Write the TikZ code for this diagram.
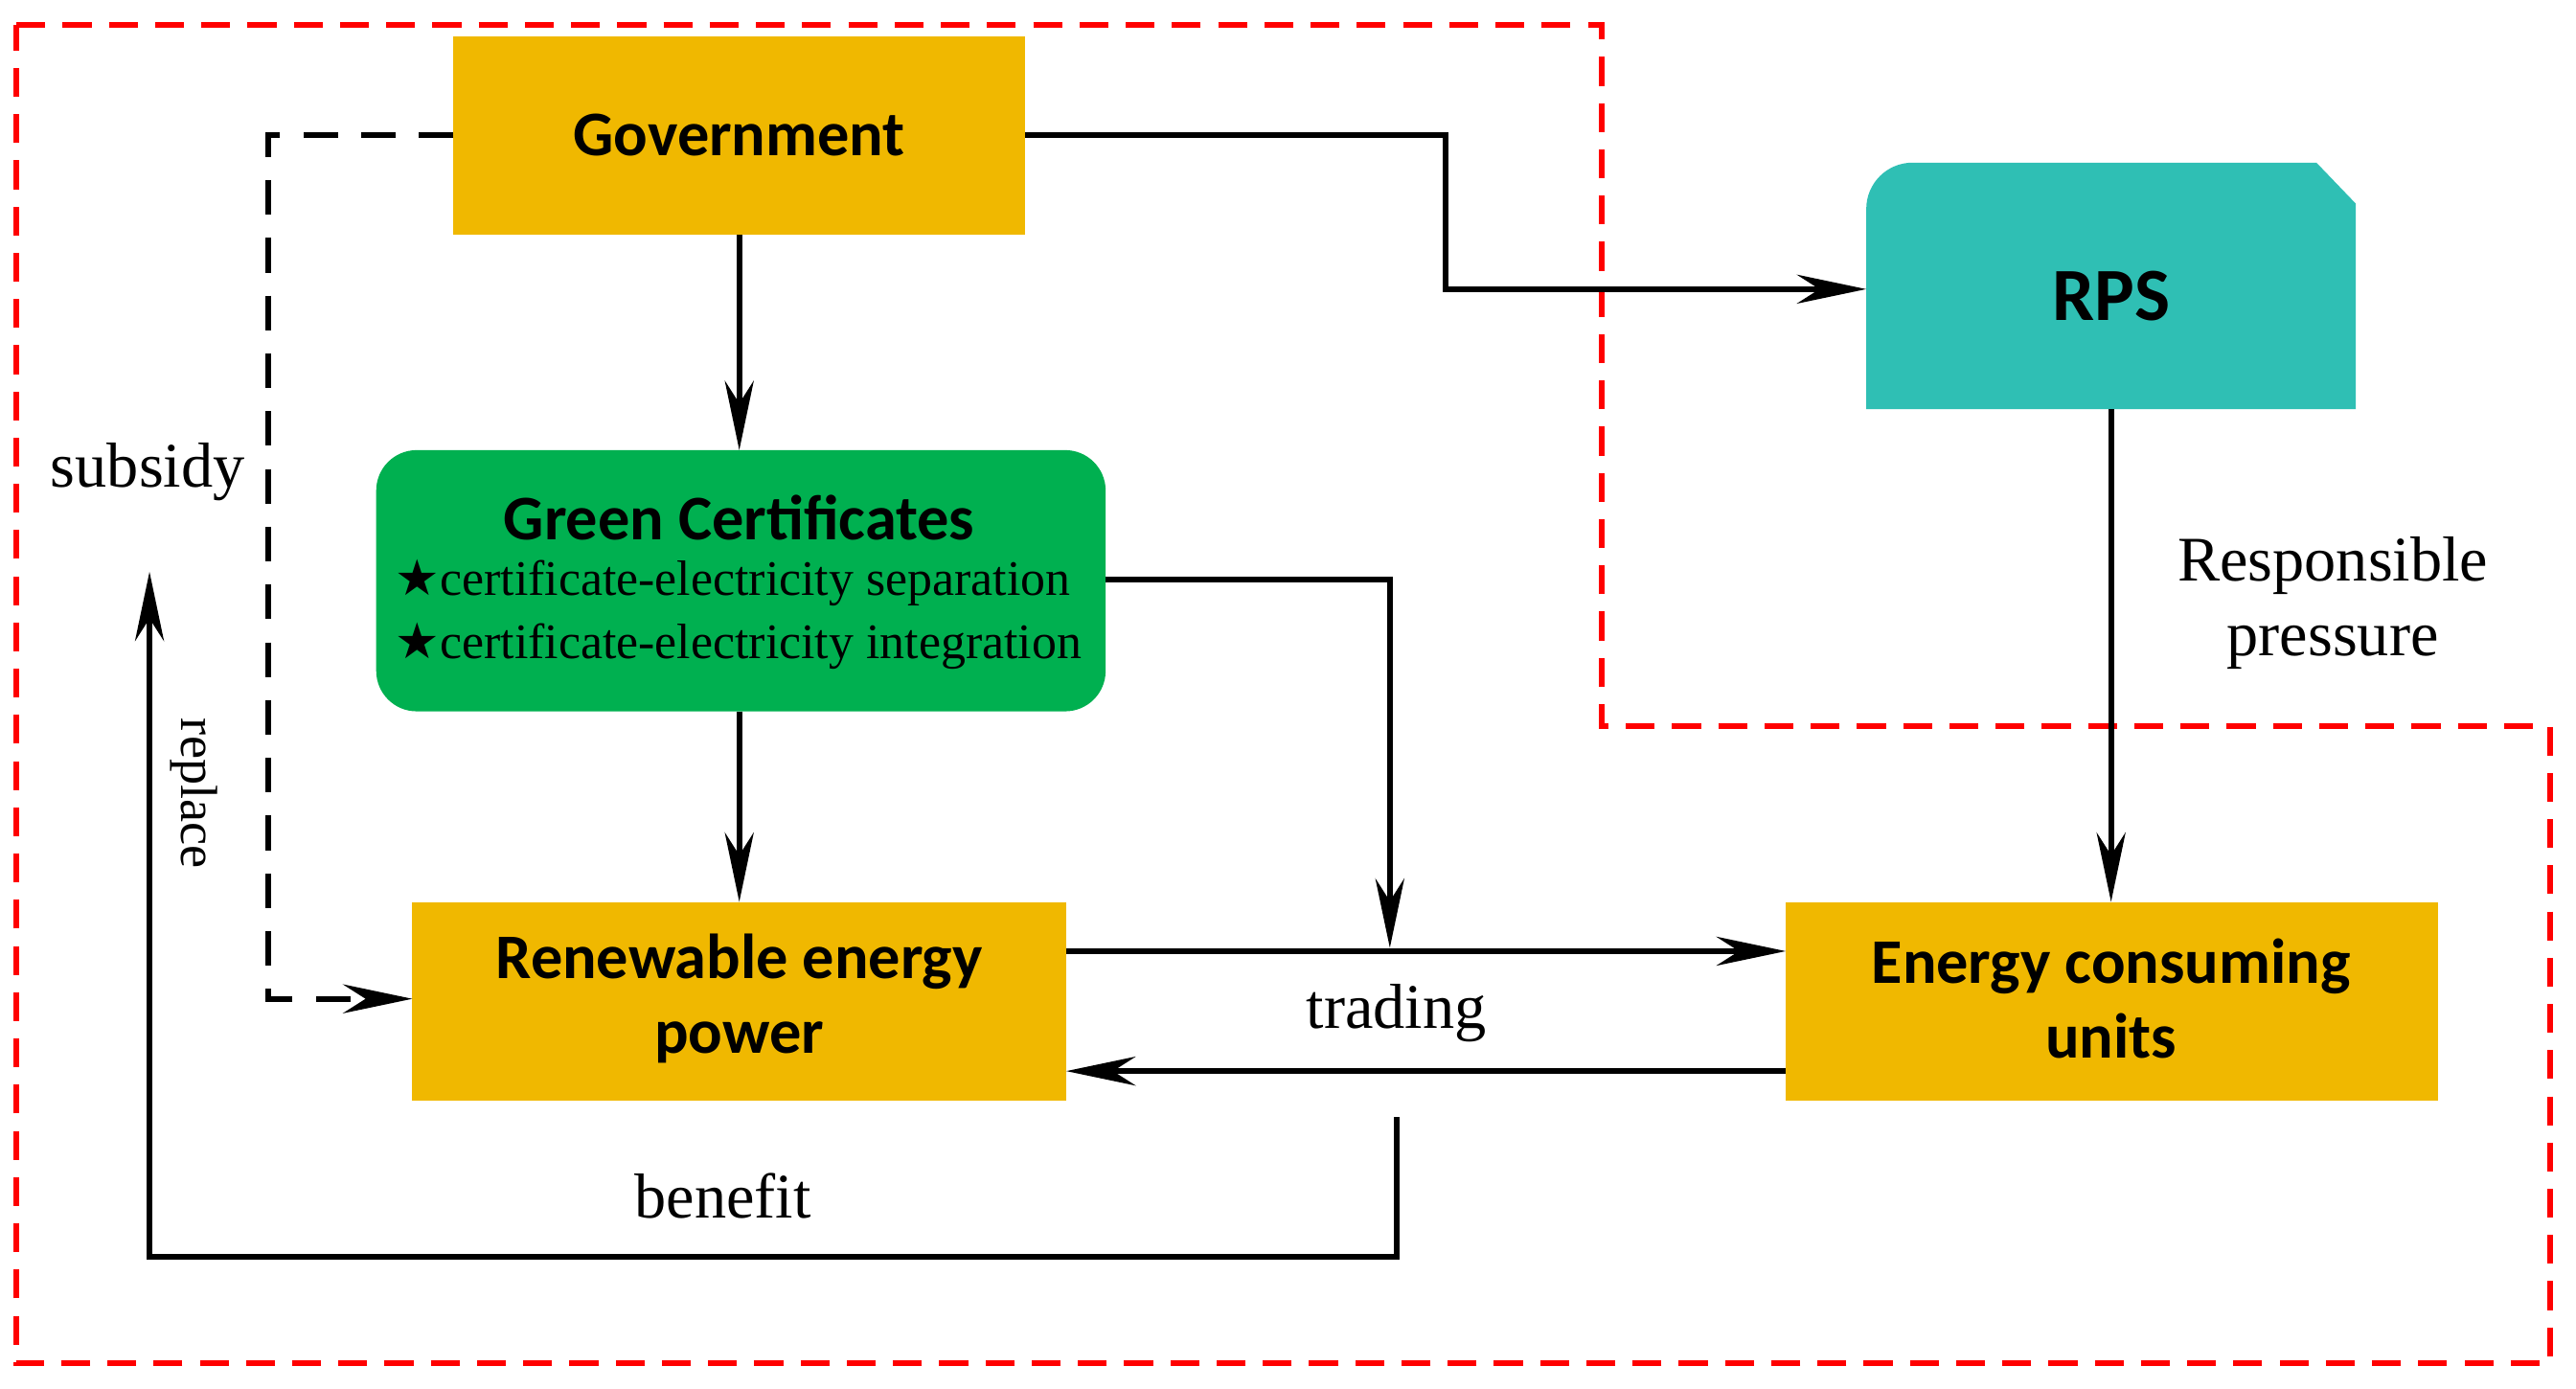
\documentclass[tikz,border=0pt]{standalone}
\usepackage{fontspec}
\setmainfont{Liberation Serif}
\newfontfamily\boxfont{Carlito}
\newfontfamily\starfont{DejaVu Sans}
\usetikzlibrary{arrows.meta}
\definecolor{gold}{HTML}{F0B800}
\definecolor{teal}{HTML}{2FBFB4}
\definecolor{grn}{HTML}{00B050}
\newcommand{\mystar}{{\starfont\char"2605}}
\begin{document}
\begin{tikzpicture}[x=0.01cm,y=-0.01cm,
  box/.style={draw=none,font=\boxfont\bfseries\fontsize{11}{13}\selectfont,align=center},
  arr/.style={line width=1pt,-{Stealth[length=12pt,width=5pt]}},
  lab/.style={font=\fontsize{11}{13}\selectfont,align=center}]
\useasboundingbox (0,0) rectangle (1568,845);
\draw[red,dashed,line width=1pt,dash pattern=on 5pt off 3pt] (10,15) -- (975,15) -- (975,442) -- (1552,442) -- (1552,830) -- (10,830) -- cycle;
\fill[gold] (276,22) rectangle (624,143);
\node[box] (govt) at (450,82) {Government};
\coordinate (govR) at (624,82); \coordinate (govL) at (276,82); \coordinate (govB) at (450,143);
\fill[teal,rounded corners=8pt] (1136,249) -- (1136,99) -- (1300,99) [sharp corners]-- (1410,99) -- (1434,124) -- (1434,249) -- cycle;
\node[box] (rps) at (1285,180) {\fontsize{13}{13}\selectfont RPS};
\coordinate (rpsL) at (1136,176); \coordinate (rpsB) at (1285,249);
\fill[grn,rounded corners=7pt] (229,274) rectangle (673,433);
\node[font=\boxfont\bfseries\fontsize{11}{11}\selectfont] (gc) at (450,315) {Green Certificates};
\node[font=\fontsize{8.6}{9}\selectfont,anchor=west,inner sep=0] (gc1) at (240,355) {\mystar certificate-electricity separation};
\node[font=\fontsize{8.6}{9}\selectfont,anchor=west,inner sep=0] (gc2) at (240,393) {\mystar certificate-electricity integration};
\coordinate (gcT) at (450,274); \coordinate (gcB) at (450,433); \coordinate (gcR) at (673,353);
\fill[gold] (251,549) rectangle (649,670);
\node[box] (ren) at (450,608) {Renewable energy\\power};
\fill[gold] (1087,549) rectangle (1484,670);
\node[box] (ecu) at (1285,608) {Energy consuming\\units};
\draw[arr] (govR) -- (880,82) -- (880,176) -- (rpsL);
\draw[arr] (govB) -- (gcT);
\draw[arr,dash pattern=on 6pt off 4pt] (govL) -- (163,82) -- (163,608) -- (251,608);
\draw[arr] (gcB) -- (450,549);
\draw[arr] (gcR) -- (846,353) -- (846,577);
\draw[arr] (649,579) -- (1087,579);
\draw[arr] (1087,652) -- (649,652);
\draw[arr] (850,680) -- (850,765) -- (91,765) -- (91,348);
\draw[arr] (rpsB) -- (1285,549);
\node[lab] (sub) at (90,287) {subsidy};
\node[lab,rotate=-90,font=\fontsize{9}{10}\selectfont] (rep) at (118,483) {replace};
\node[lab] (ben) at (440,728) {benefit};
\node[lab] (trd) at (850,617) {trading};
\node[lab] (rp) at (1420,367) {Responsible\\pressure};
\end{tikzpicture}
\end{document}
